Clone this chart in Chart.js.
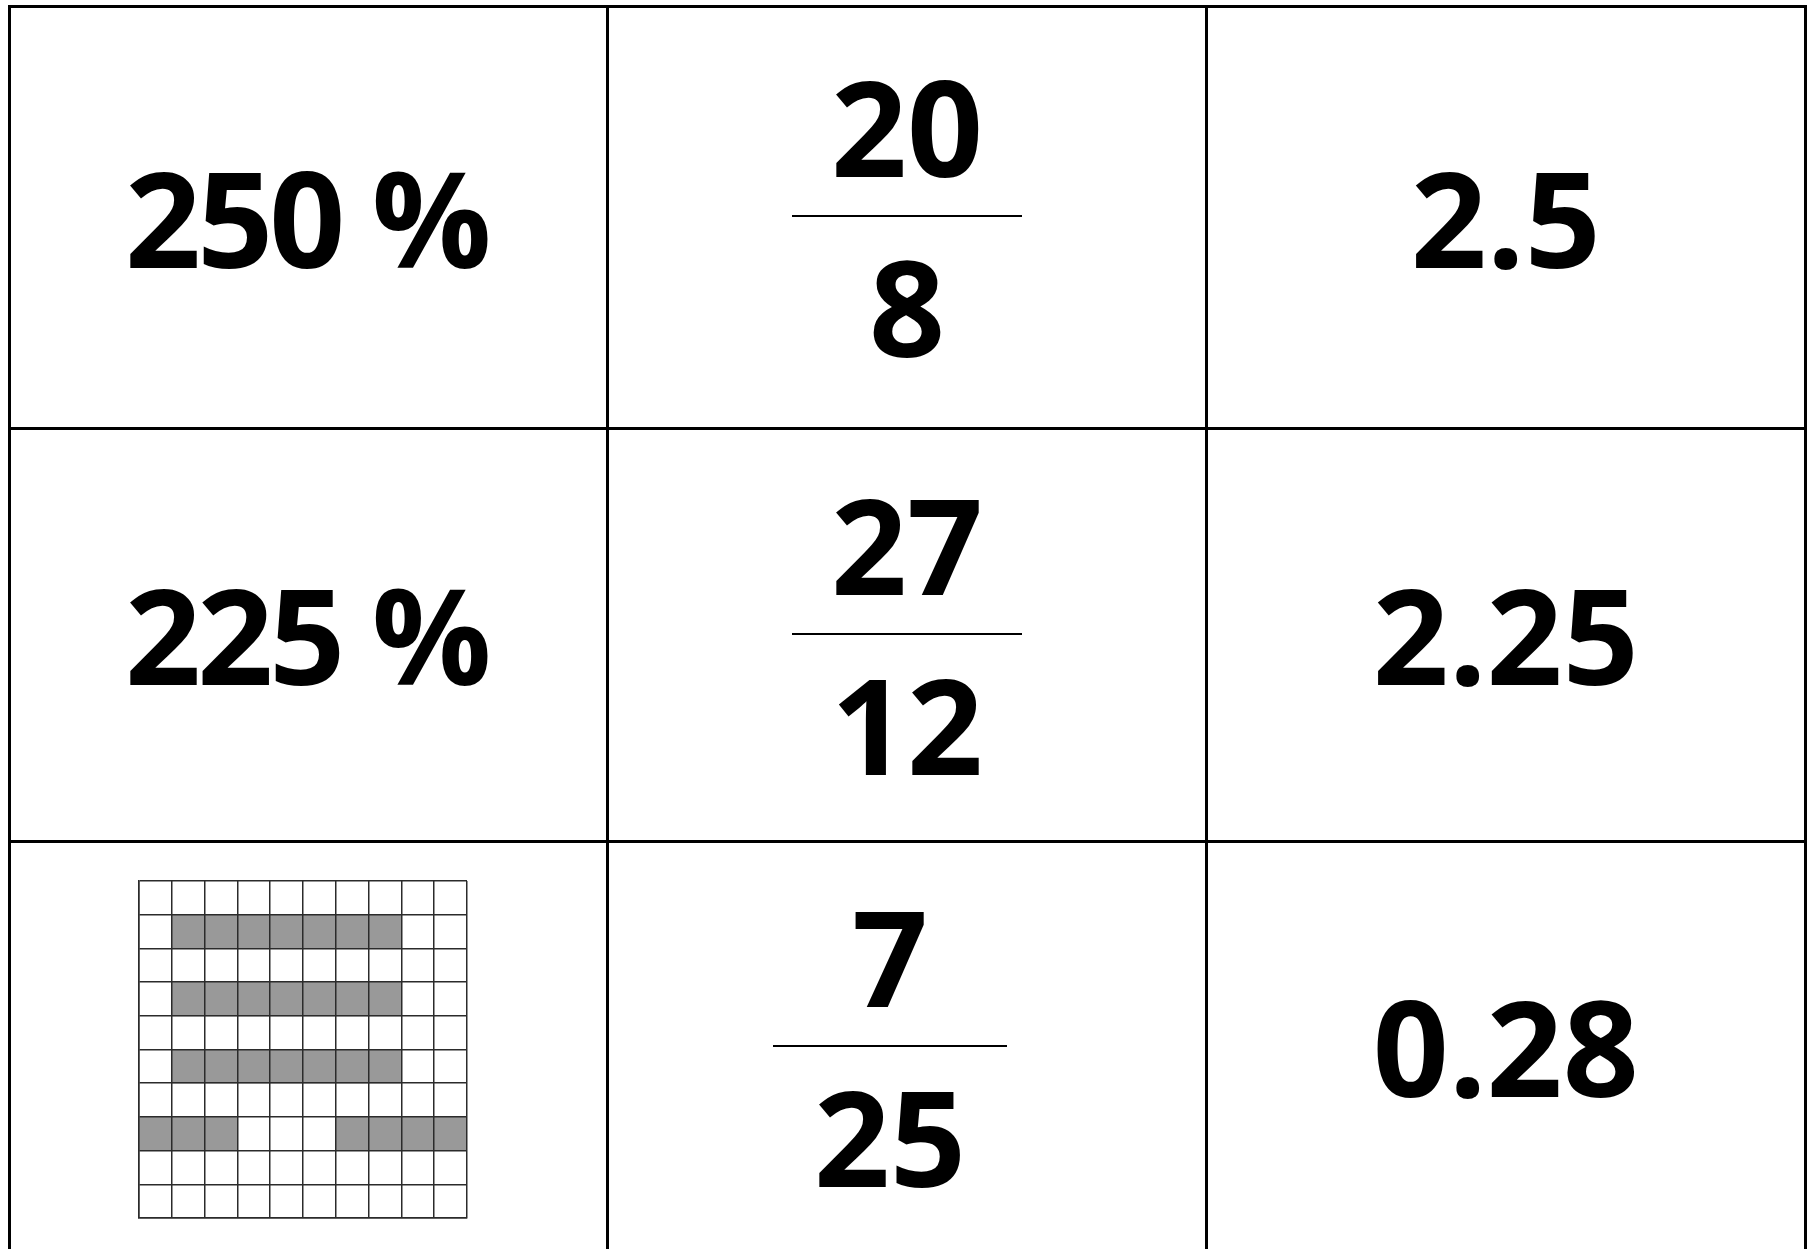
<!DOCTYPE html>
<html>
<head>
<meta charset="utf-8">
<script src="https://cdn.jsdelivr.net/npm/chart.js@4.4.0/dist/chart.umd.min.js"></script>
<style>
  html, body { margin: 0; padding: 0; background: #fff; overflow: hidden; }
  #wrap { position: relative; width: 1813px; height: 1249px; }
  #tableChart { position: absolute; left: 0; top: 0; }
  #gridBox { position: absolute; left: 136px; top: 878px; width: 334px; height: 343px; }
</style>
</head>
<body>
<div id="wrap">
  <canvas id="tableChart" width="1813" height="1249"></canvas>
  <div id="gridBox"><canvas id="gridChart"></canvas></div>
</div>
<script>
// card texts, one entry per table row
const percents = ['250 %', '225 %', null];
const numerators = ['20', '27', '7'];
const denominators = ['8', '12', '25'];
const decimals = ['2.5', '2.25', '0.28'];

// 10x10 hundred grid, shaded runs per row as [fromCol, toCol]
const gridRows = ['1', '2', '3', '4', '5', '6', '7', '8', '9', '10'];
const shadedRunA = [null, [1, 8], null, [1, 8], null, [1, 8], null, [0, 3], null, null];
const shadedRunB = [null, null, null, null, null, null, null, [6, 10], null, null];

// table rows are not all the same height
const rowEdges = [0, 423, 835, 1247];
const FONT = '700 133px "Open Sans", "DejaVu Sans", sans-serif';
const fracShift = [0, 0, -17];

const cardText = {
  id: 'cardText',
  afterDraw(chart) {
    const { ctx, scales: { x, y } } = chart;
    ctx.save();
    ctx.fillStyle = '#000';
    ctx.font = FONT;
    ctx.textAlign = 'center';
    ctx.textBaseline = 'alphabetic';
    for (let r = 0; r < 3; r++) {
      const top = y.getPixelForValue(rowEdges[r]);
      const cy = y.getPixelForValue((rowEdges[r] + rowEdges[r + 1]) / 2);
      if (percents[r]) {
        ctx.letterSpacing = '-4px';
        ctx.fillText(percents[r], x.getPixelForValue(0.5) - 2, cy + 50);
        ctx.letterSpacing = '0px';
      }
      ctx.fillText(decimals[r], x.getPixelForValue(2.5), cy + 50);

      const fx = x.getPixelForValue(1.5) + fracShift[r];
      const lineY = top + (r === 0 ? 210 : 205);
      ctx.fillText(numerators[r], fx, lineY - 39);
      ctx.fillText(denominators[r], fx, lineY + 141);
      const w = r === 2 ? 117 : 115;
      ctx.beginPath();
      ctx.lineWidth = 2;
      ctx.strokeStyle = '#000';
      ctx.moveTo(fx - w, lineY);
      ctx.lineTo(fx + w, lineY);
      ctx.stroke();
    }
    ctx.restore();
  }
};

new Chart(document.getElementById('tableChart'), {
  type: 'scatter',
  data: { datasets: [] },
  options: {
    responsive: false,
    animation: false,
    layout: { padding: { left: 9, right: 8, top: 6, bottom: 0 } },
    plugins: { legend: { display: false }, tooltip: { enabled: false } },
    scales: {
      x: {
        type: 'linear', position: 'top', min: 0, max: 3,
        ticks: { display: false, stepSize: 1 },
        grid: { color: '#000', lineWidth: 3, drawTicks: false },
        border: { display: true, color: '#000', width: 3 }
      },
      y: {
        type: 'linear', reverse: true, min: 0, max: 1243,
        afterBuildTicks: (s) => { s.ticks = rowEdges.slice(0, 3).map(v => ({ value: v })); },
        ticks: { display: false },
        grid: { color: '#000', lineWidth: 3, drawTicks: false },
        border: { display: true, color: '#000', width: 3 }
      }
    }
  },
  plugins: [cardText]
});

const gridLine = '#2b2b2b';
new Chart(document.getElementById('gridChart'), {
  type: 'bar',
  data: {
    labels: gridRows,
    datasets: [
      { data: shadedRunA, backgroundColor: '#999999', borderWidth: 0 },
      { data: shadedRunB, backgroundColor: '#999999', borderWidth: 0 }
    ]
  },
  options: {
    indexAxis: 'y',
    responsive: true,
    maintainAspectRatio: false,
    animation: false,
    grouped: false,
    barPercentage: 1,
    categoryPercentage: 1,
    layout: { padding: 3 },
    plugins: { legend: { display: false }, tooltip: { enabled: false } },
    scales: {
      x: {
        type: 'linear', min: 0, max: 10,
        ticks: { display: false, stepSize: 1 },
        grid: { color: gridLine, lineWidth: 1.5, drawTicks: false, z: 1 },
        border: { display: true, color: gridLine, width: 1.5, z: 1 }
      },
      y: {
        type: 'category',
        ticks: { display: false },
        grid: { color: gridLine, lineWidth: 1.5, drawTicks: false, offset: true, z: 1 },
        border: { display: true, color: gridLine, width: 1.5, z: 1 }
      }
    }
  }
});
</script>
</body>
</html>
